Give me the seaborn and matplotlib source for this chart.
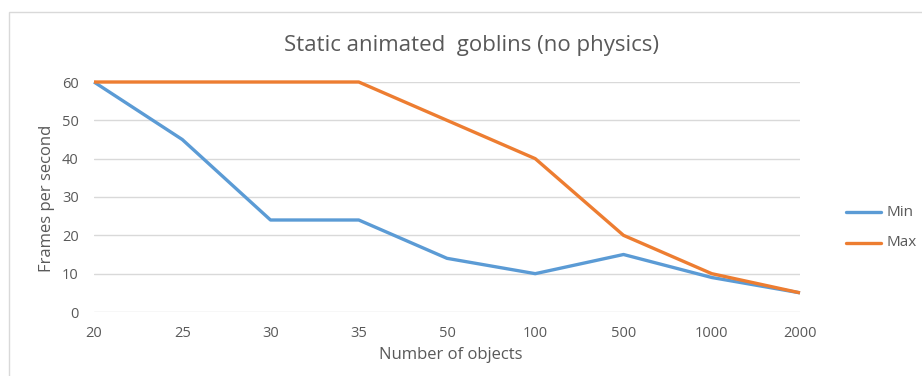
import matplotlib
matplotlib.use("Agg")
import matplotlib.pyplot as plt
import seaborn as sns
import pandas as pd
from matplotlib.patches import Rectangle

# Object counts tested and measured frame rates
objects = ["20", "25", "30", "35", "50", "100", "500", "1000", "2000"]
fps_min = [60, 45, 24, 24, 14, 10, 15, 9, 5]
fps_max = [60, 60, 60, 60, 50, 40, 20, 10, 5]
y_ticks = [0, 10, 20, 30, 40, 50, 60]

sns.set_theme(style="white")
plt.rcParams["font.family"] = ["Open Sans", "DejaVu Sans"]

text_color = "#595959"
grid_color = "#D9D9D9"
palette = {"Min": "#5B9BD5", "Max": "#ED7D31"}
tick_fs = 10.5
label_fs = 12

df = pd.DataFrame({
    "objects": objects * 2,
    "fps": fps_min + fps_max,
    "series": ["Min"] * len(objects) + ["Max"] * len(objects),
})

W, H = 922, 376
fig = plt.figure(figsize=(W / 100, H / 100), dpi=100)
ax = fig.add_axes([94 / W, 1 - 312 / H, (800 - 94) / W, (312 - 82) / H])

sns.lineplot(data=df, x="objects", y="fps", hue="series", palette=palette,
             linewidth=2.4, ax=ax, sort=False, legend=False)
for line in ax.lines:
    line.set_clip_on(False)
    line.set_solid_joinstyle("round")
    line.set_solid_capstyle("butt")

ax.set_xlim(0, len(objects) - 1)
ax.set_ylim(0, 60)
ax.set_yticks(y_ticks)
ax.yaxis.grid(True, color=grid_color, linewidth=1.0)
ax.set_axisbelow(True)
for s in ax.spines.values():
    s.set_visible(False)
ax.tick_params(axis="both", length=0, labelsize=tick_fs, labelcolor=text_color)
ax.tick_params(axis="y", pad=11)
ax.tick_params(axis="x", pad=10)

ax.set_xlabel("")
ax.set_ylabel("")
fig.text(451 / W, 1 - 355 / H, "Number of objects", ha="center", va="center",
         fontsize=label_fs, color=text_color)
fig.text(47 / W, 1 - 198 / H, "Frames per second", ha="center", va="center",
         rotation=90, fontsize=label_fs, color=text_color)

fig.text(471 / W, 1 - 45 / H, "Static animated  goblins (no physics)",
         ha="center", va="center", fontsize=16, color=text_color)

# Legend entries drawn as short line segments with labels
for i, name in enumerate(["Min", "Max"]):
    y = 1 - (212 + 31 * i) / H
    fig.add_artist(plt.Line2D([846 / W, 881 / W], [y, y], color=palette[name],
                              linewidth=2.4, solid_capstyle="round"))
    fig.text(886 / W, y, name, ha="left", va="center", fontsize=11,
             color=text_color)

# Chart area border
fig.add_artist(Rectangle((9 / W, -0.1), 1.2, 1.1 - 12 / H, fill=False,
                         edgecolor=grid_color, linewidth=1.0,
                         transform=fig.transFigure))

fig.savefig("out.png", dpi=100, facecolor="white")
